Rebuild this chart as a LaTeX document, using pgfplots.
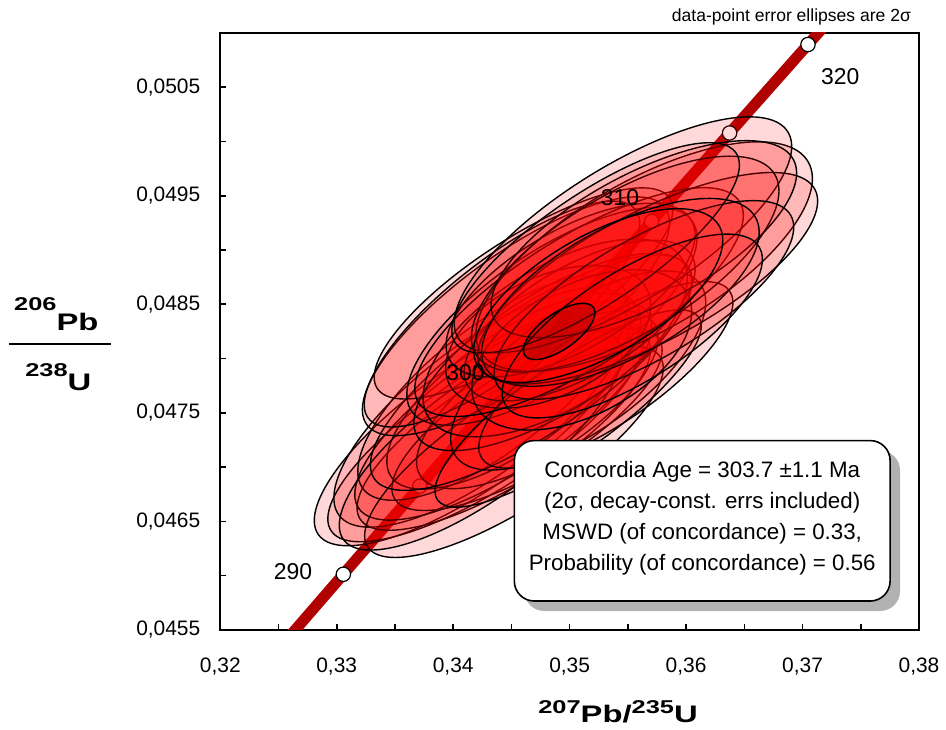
\documentclass[border=0pt]{standalone}
\usepackage{pgfplots}
\pgfplotsset{compat=1.18}
\usepackage{pgfplotstable}
\usepackage{fontspec}
\setmainfont{Liberation Sans}
\usetikzlibrary{shadows}

\definecolor{concred}{RGB}{176,0,0}

% error ellipse mark: semi-axes \ea, \eb (pt), rotated in the scatter pre code
\pgfdeclareplotmark{errell}{%
  \pgfpathellipse{\pgfpointorigin}{\pgfpoint{\ea pt}{0pt}}{\pgfpoint{0pt}{\eb pt}}%
  \pgfusepathqfillstroke}

% data-point ellipses: centre (207Pb/235U, 206Pb/238U), semi-axes in pt, angle
\pgfplotstableread{
x       y       a     b     ang
0.34174 0.04738 95    31    35
0.34279 0.04734 92.5  29    33
0.34251 0.04755 90    32.5  37
0.34434 0.04735 85    27.5  32
0.34430 0.04752 87.5  30    34
0.34341 0.04773 82.5  31    38
0.34634 0.04744 77.5  26    31
0.34520 0.04770 75    29    35
0.34723 0.04762 70    27.5  33
0.34522 0.04714 87.5  27.5  33
0.34235 0.04725 85    29    36
0.34670 0.04787 95    31    34
0.34539 0.04839 92.5  31    36
0.34604 0.04860 87.5  27.5  33
0.34419 0.04841 85    27.5  38
0.34848 0.04839 85    32.5  34
0.34855 0.04806 80    30    32
0.34876 0.04819 75    35    32
0.35074 0.04789 75    31    35
0.35311 0.04785 75    25    34
0.34987 0.04754 80    22.5  35
0.35086 0.04835 65    27.5  30
0.34816 0.04820 55    30    25
0.35008 0.04863 70    30    30
0.35104 0.04808 60    32.5  28
0.35081 0.04852 95    32.5  32
0.35640 0.04894 95    37.5  30
0.35458 0.04914 97.5  34    32
0.35670 0.04874 95    32.5  28
0.35477 0.04887 87.5  35    31
0.35637 0.04910 85    33    28
0.35638 0.04854 85    30    30
0.35223 0.04902 85    27.5  34
0.35436 0.04861 77.5  32.5  29
0.35538 0.04830 75    27.5  32
0.35246 0.04858 70    30    30
}\ellipses

% concordia age ellipse
\pgfplotstableread{
x       y       a     b     ang
0.34910 0.04825 21    9     35
}\ageell

% concordia curve, 285-325 Ma in 5 Ma steps
\pgfplotstableread{
t   x        y
285 0.324033 0.045203
290 0.330569 0.046013
295 0.337137 0.046825
300 0.343738 0.047637
305 0.350371 0.048450
310 0.357037 0.049264
315 0.363736 0.050078
320 0.370469 0.050893
325 0.377234 0.051708
}\concordia

\begin{document}
\begin{tikzpicture}
\begin{axis}[
  name=ax,
  scale only axis,
  width=350.5pt, height=299.5pt,
  xmin=0.32, xmax=0.38,
  ymin=0.0455, ymax=0.0510,
  xtick={0.32,0.33,0.34,0.35,0.36,0.37,0.38},
  minor xtick={0.325,0.335,0.345,0.355,0.365,0.375},
  ytick={0.0455,0.0465,0.0475,0.0485,0.0495,0.0505},
  minor ytick={0.046,0.047,0.048,0.049,0.050},
  scaled ticks=false,
  tick align=inside,
  xtick pos=left, ytick pos=left,
  major tick length=3pt, minor tick length=3pt,
  tick style={black, line width=0.8pt},
  axis line style={line width=0.9pt},
  /pgf/number format/assume math mode=true,
  ticklabel style={font=\fontsize{10.5}{12}\selectfont},
  xticklabel style={/pgf/number format/fixed, /pgf/number format/fixed zerofill,
    /pgf/number format/precision=2, /pgf/number format/use comma, yshift=-10.5pt},
  yticklabel style={/pgf/number format/fixed, /pgf/number format/fixed zerofill,
    /pgf/number format/precision=4, /pgf/number format/use comma, xshift=-6.5pt},
]
% concordia band
\addplot[concred, line width=5.5pt, line cap=butt] table[x=x, y=y] {\concordia};
% age markers
\addplot[only marks, mark=*, mark size=3.6pt,
  mark options={fill=white, draw=black, line width=0.6pt}]
  table[x=x, y=y] {\concordia};

% data-point error ellipses
\addplot[scatter, only marks, mark=errell,
  visualization depends on={\thisrow{a} \as \ea},
  visualization depends on={\thisrow{b} \as \eb},
  visualization depends on={\thisrow{ang} \as \eang},
  scatter/@pre marker code/.code={\pgfscope\pgftransformrotate{\eang}},
  scatter/@post marker code/.code={\endpgfscope},
  mark options={draw=black, fill=red, fill opacity=0.15, line width=0.7pt},
] table[x=x, y=y] {\ellipses};

% concordia age ellipse
\addplot[scatter, only marks, mark=errell,
  visualization depends on={\thisrow{a} \as \ea},
  visualization depends on={\thisrow{b} \as \eb},
  visualization depends on={\thisrow{ang} \as \eang},
  scatter/@pre marker code/.code={\pgfscope\pgftransformrotate{\eang}},
  scatter/@post marker code/.code={\endpgfscope},
  mark options={draw=black, fill=black, fill opacity=0.15, line width=0.75pt},
] table[x=x, y=y] {\ageell};
\end{axis}

% age labels (drawn over the ellipses)
\begin{scope}[font=\fontsize{11.5}{13}\selectfont]
\node at ([shift={(36.5pt,29.5pt)}]ax.south west) {290};
\node at ([shift={(123pt,129pt)}]ax.south west) {300};
\node at ([shift={(200.5pt,217pt)}]ax.south west) {310};
\node at ([shift={(311pt,277.5pt)}]ax.south west) {320};
\end{scope}

% result box
\node[draw=black, line width=0.8pt, fill=white, rounded corners=10pt,
  minimum width=188.5pt, minimum height=80.5pt,
  drop shadow={shadow xshift=5pt, shadow yshift=-5pt, fill=black!30, opacity=1}]
  at ([shift={(241.75pt,54.75pt)}]ax.south west) {};
\node[align=center, font=\fontsize{11.2}{15.6}\selectfont]
  at ([shift={(241.75pt,56pt)}]ax.south west)
  {Concordia Age = 303.7 ±1.1 Ma\\
   (2σ, decay-const. errs included)\\
   MSWD (of concordance) = 0.33,\\
   Probability (of concordance) = 0.56};

% title
\node[anchor=base east, font=\fontsize{8.8}{10}\selectfont]
  at ([shift={(350pt,305pt)}]ax.south west) {data-point error ellipses are 2σ};

% x label
\node[anchor=base, font=\bfseries]
  at ([shift={(199.5pt,-46.5pt)}]ax.south west)
  {\scalebox{1.37}[1]{\raisebox{4.5pt}{\fontsize{9.3}{10}\selectfont 207}\fontsize{12}{14}\selectfont Pb/\raisebox{4.5pt}{\fontsize{9.3}{10}\selectfont 235}\fontsize{12}{14}\selectfont U}};

% y label as a fraction
\node[anchor=base, font=\bfseries]
  at ([shift={(-82.25pt,150pt)}]ax.south west)
  {\scalebox{1.37}[1]{\raisebox{10pt}{\fontsize{9.3}{10}\selectfont 206}\fontsize{12}{14}\selectfont Pb}};
\draw[line width=1pt] ([shift={(-106pt,143.5pt)}]ax.south west) -- ([shift={(-55pt,143.5pt)}]ax.south west);
\node[anchor=base, font=\bfseries]
  at ([shift={(-81.25pt,120pt)}]ax.south west)
  {\scalebox{1.37}[1]{\raisebox{7pt}{\fontsize{9.3}{10}\selectfont 238}\fontsize{12}{14}\selectfont U}};

% page extent
\path ([shift={(-110.5pt,316pt)}]ax.south west) rectangle ([shift={(362.5pt,-47pt)}]ax.south west);
\end{tikzpicture}
\end{document}
